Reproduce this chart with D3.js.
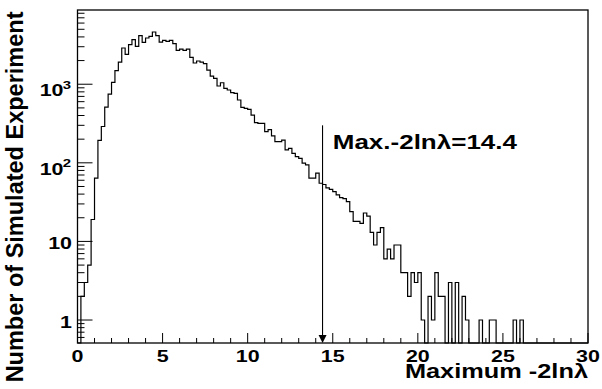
<!DOCTYPE html>
<html>
<head>
<meta charset="utf-8">
<script src="https://cdn.jsdelivr.net/npm/d3@7"></script>
<style>
body { margin: 0; background: #fff; }
text { font-family: "Liberation Sans", Arial, sans-serif; font-weight: bold; fill: #000; }
</style>
</head>
<body>
<svg id="chart"></svg>
<script>
var width = 602, height = 389;

// counts per bin, bins of 0.2 from 0 to 30
var counts = [
    0, 2, 3, 5, 19, 64, 193, 290, 512, 750,
    1055, 1486, 1916, 2890, 2400, 3186, 3690, 3035, 4150, 3413,
    3873, 4065, 4620, 4150, 3440, 3615, 3515, 3615, 3280, 2700,
    2805, 2700, 2805, 2197, 1862, 1974, 1916, 1825, 1515, 1270,
    1190, 950, 1045, 885, 845, 780, 766, 630, 508, 494,
    480, 405, 325, 318, 318, 250, 264, 220, 186, 186,
    195, 146, 153, 132, 120, 114, 99, 94, 64, 64,
    74, 55, 53, 48, 46, 43, 39, 36, 35, 32,
    24, 18, 18, 17, 23, 21, 13, 9, 13, 15,
    6, 8, 6, 9, 9, 4, 4, 2, 4, 3,
    4, 1, 0, 2, 1, 4, 2, 2, 0, 3,
    0, 3, 0, 2, 1, 0, 0, 0, 1, 0,
    0, 1, 1, 0, 0, 0, 0, 0, 1, 0,
    1, 0, 0, 0, 0, 0, 0, 0, 0, 0,
    0, 0, 0, 0, 0, 0, 0, 0, 0, 0
];
var binWidth = 0.2;

var xMajorTicks = [0, 5, 10, 15, 20, 25, 30];
var xMinorTicks = [1, 2, 3, 4, 6, 7, 8, 9, 11, 12, 13, 14, 16, 17, 18, 19, 21, 22, 23, 24, 26, 27, 28, 29];
var yMajorTicks = [1, 10, 100, 1000];
var yTickBase = ["1", "10", "10", "10"];
var yTickExp = ["", "", "2", "3"];
var yMinorTicks = [0.6, 0.7, 0.8, 0.9, 2, 3, 4, 5, 6, 7, 8, 9, 20, 30, 40, 50, 60, 70, 80, 90,
    200, 300, 400, 500, 600, 700, 800, 900, 2000, 3000, 4000, 5000, 6000, 7000, 8000];

var markValue = 14.4;
var markTop = 300;
var markLabel = "Max.-2ln\u03bb=14.4";
var labelPos = [15.0, 152];

var xTitle = "Maximum -2ln\u03bb";
var yTitle = "Number of Simulated Experiment";

var frameLeft = 77.5, frameRight = 588, frameTop = 10, frameBottom = 343;
var yMin = 0.51, yMax = 8800;
var stretch = 1.3;

var svg = d3.select("#chart")
    .attr("width", width)
    .attr("height", height);

var x = d3.scaleLinear().domain([0, 30]).range([frameLeft, frameRight]);
var y = d3.scaleLog().domain([yMin, yMax]).range([frameBottom, frameTop]).clamp(true);

// histogram as steps, empty bins sit on the bottom axis
var steps = [[0, yMin]];
counts.forEach(function(c, i) {
    var v = c > 0 ? c : yMin;
    steps.push([i * binWidth, v]);
    steps.push([(i + 1) * binWidth, v]);
});

var line = d3.line()
    .x(function(d) { return x(d[0]); })
    .y(function(d) { return y(d[1]); });

svg.append("path")
    .datum(steps)
    .attr("d", line)
    .attr("fill", "none")
    .attr("stroke", "#000")
    .attr("stroke-width", 1.2);

// frame
svg.append("rect")
    .attr("x", frameLeft)
    .attr("y", frameTop)
    .attr("width", frameRight - frameLeft)
    .attr("height", frameBottom - frameTop)
    .attr("fill", "none")
    .attr("stroke", "#000")
    .attr("stroke-width", 1.3);

// x ticks
svg.selectAll(".xmaj").data(xMajorTicks).enter().append("line")
    .attr("x1", function(d) { return x(d); })
    .attr("x2", function(d) { return x(d); })
    .attr("y1", frameBottom)
    .attr("y2", frameBottom - 10)
    .attr("stroke", "#000");

svg.selectAll(".xmin").data(xMinorTicks).enter().append("line")
    .attr("x1", function(d) { return x(d); })
    .attr("x2", function(d) { return x(d); })
    .attr("y1", frameBottom)
    .attr("y2", frameBottom - 5)
    .attr("stroke", "#000");

svg.selectAll(".xlab").data(xMajorTicks).enter().append("text")
    .attr("transform", function(d) { return "translate(" + x(d) + ",362) scale(" + stretch + ",1)"; })
    .attr("text-anchor", "middle")
    .style("font-size", "16.5px")
    .text(function(d) { return d; });

// y ticks
svg.selectAll(".ymaj").data(yMajorTicks).enter().append("line")
    .attr("x1", frameLeft)
    .attr("x2", frameLeft + 15)
    .attr("y1", function(d) { return y(d); })
    .attr("y2", function(d) { return y(d); })
    .attr("stroke", "#000");

svg.selectAll(".ymin").data(yMinorTicks).enter().append("line")
    .attr("x1", frameLeft)
    .attr("x2", frameLeft + 7)
    .attr("y1", function(d) { return y(d); })
    .attr("y2", function(d) { return y(d); })
    .attr("stroke", "#000");

yMajorTicks.forEach(function(d, i) {
    var yy = y(d);
    if (yTickExp[i] == "") {
        svg.append("text")
            .attr("transform", "translate(72," + (yy + 7.5) + ") scale(" + stretch + ",1)")
            .attr("text-anchor", "end")
            .style("font-size", "16.5px")
            .text(yTickBase[i]);
    } else {
        svg.append("text")
            .attr("transform", "translate(71," + (yy + 4.5) + ") scale(" + stretch + ",1)")
            .attr("text-anchor", "end")
            .style("font-size", "11.5px")
            .text(yTickExp[i]);
        svg.append("text")
            .attr("transform", "translate(63.5," + (yy + 12) + ") scale(" + stretch + ",1)")
            .attr("text-anchor", "end")
            .style("font-size", "16.5px")
            .text(yTickBase[i]);
    }
});

// axis titles
svg.append("text")
    .attr("transform", "translate(588,378) scale(" + stretch + ",1)")
    .attr("text-anchor", "end")
    .style("font-size", "19.5px")
    .text(xTitle);

svg.append("text")
    .attr("transform", "translate(22.7,11.5) rotate(-90)")
    .attr("text-anchor", "end")
    .style("font-size", "23.5px")
    .text(yTitle);

// arrow marking observed value
var ax = x(markValue);
svg.append("line")
    .attr("x1", ax)
    .attr("x2", ax)
    .attr("y1", y(markTop))
    .attr("y2", frameBottom - 6)
    .attr("stroke", "#000")
    .attr("stroke-width", 1.1);

svg.append("path")
    .attr("d", "M" + (ax - 4) + "," + (frameBottom - 8) + "L" + (ax + 4) + "," + (frameBottom - 8) + "L" + ax + "," + frameBottom + "Z")
    .attr("fill", "#000");

svg.append("text")
    .attr("transform", "translate(" + x(labelPos[0]) + "," + y(labelPos[1]) + ") scale(" + stretch + ",1)")
    .style("font-size", "20px")
    .text(markLabel);
</script>
</body>
</html>
